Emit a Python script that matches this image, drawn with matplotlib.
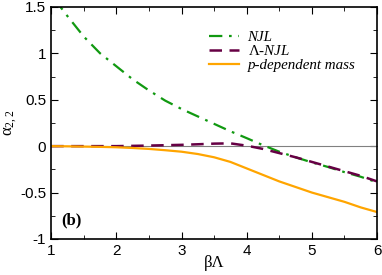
import matplotlib.pyplot as plt
from matplotlib.ticker import MultipleLocator

plt.rcParams['mathtext.fontset'] = 'custom'
plt.rcParams['mathtext.rm'] = 'Liberation Serif'
plt.rcParams['mathtext.it'] = 'Liberation Serif:italic'

beta = [1.0, 1.25, 1.5, 1.75, 2.0, 2.25, 2.5, 2.75, 3.0, 3.25, 3.5, 3.75,
        4.0, 4.25, 4.5, 4.75, 5.0, 5.25, 5.5, 5.75, 6.0]

njl = [1.63, 1.40, 1.18, 1.00, 0.86, 0.72, 0.60, 0.49, 0.40, 0.32, 0.24, 0.16,
       0.086, 0.01, -0.06, -0.12, -0.175, -0.225, -0.28, -0.33, -0.39]
lam_njl = [0.0, 0.0, 0.0, 0.0, 0.0, 0.003, 0.006, 0.01, 0.014, 0.02, 0.027, 0.03,
           0.005, -0.03, -0.075, -0.12, -0.17, -0.22, -0.27, -0.32, -0.38]
p_mass = [0.0, -0.002, -0.005, -0.008, -0.012, -0.02, -0.03, -0.044, -0.06, -0.085, -0.12, -0.17,
          -0.24, -0.31, -0.38, -0.44, -0.50, -0.55, -0.60, -0.66, -0.71]

fig = plt.figure(figsize=(3.82, 2.75), dpi=100)
ax = fig.add_axes([0.134, 0.131, 0.853, 0.844])

ax.axhline(0, color='grey', lw=0.8)
ax.plot(beta, njl, color='#119911', ls=(0, (6, 3, 1.2, 3)), lw=1.6, label='NJL')
ax.plot(beta, lam_njl, color='#660044', ls=(0, (5, 3)), lw=1.8, label=r'$\mathrm{\Lambda}$-NJL')
ax.plot(beta, p_mass, color='#ffa500', lw=1.6, label='p-dependent mass')

ax.set_xlim(1, 6)
ax.set_ylim(-1, 1.5)
ax.xaxis.set_major_locator(MultipleLocator(1))
ax.xaxis.set_minor_locator(MultipleLocator(0.5))
ax.yaxis.set_minor_locator(MultipleLocator(0.25))
ax.set_yticks([-1, -0.5, 0, 0.5, 1, 1.5])
ax.set_yticklabels(['-1', '-0.5', '0', '0.5', '1', '1.5'])
ax.tick_params(which='both', direction='in', top=True, right=True, labelsize=11)
ax.tick_params(which='major', length=5)
ax.tick_params(which='minor', length=3)
for lab in ax.get_xticklabels() + ax.get_yticklabels():
    lab.set_family('Liberation Sans')
for s in ax.spines.values():
    s.set_linewidth(1.2)

ax.set_xlabel('βΛ', fontsize=12, family='Liberation Serif')
ax.xaxis.set_label_coords(0.5, -0.07)
ax.set_ylabel(r'$\mathrm{\alpha_{2,2}}$', fontsize=12)
ax.yaxis.set_label_coords(-0.1, 0.5)

ax.text(1.15, -0.8, '(b)', fontsize=12, fontweight='bold', family='Liberation Serif', va='center')
leg = ax.legend(loc='upper right', bbox_to_anchor=(0.975, 0.955), frameon=False,
                prop={'family': 'Liberation Serif', 'style': 'italic', 'size': 10.8},
                handlelength=2.0, labelspacing=0.0, handletextpad=0.6)

fig.savefig('out.png', dpi=100)
